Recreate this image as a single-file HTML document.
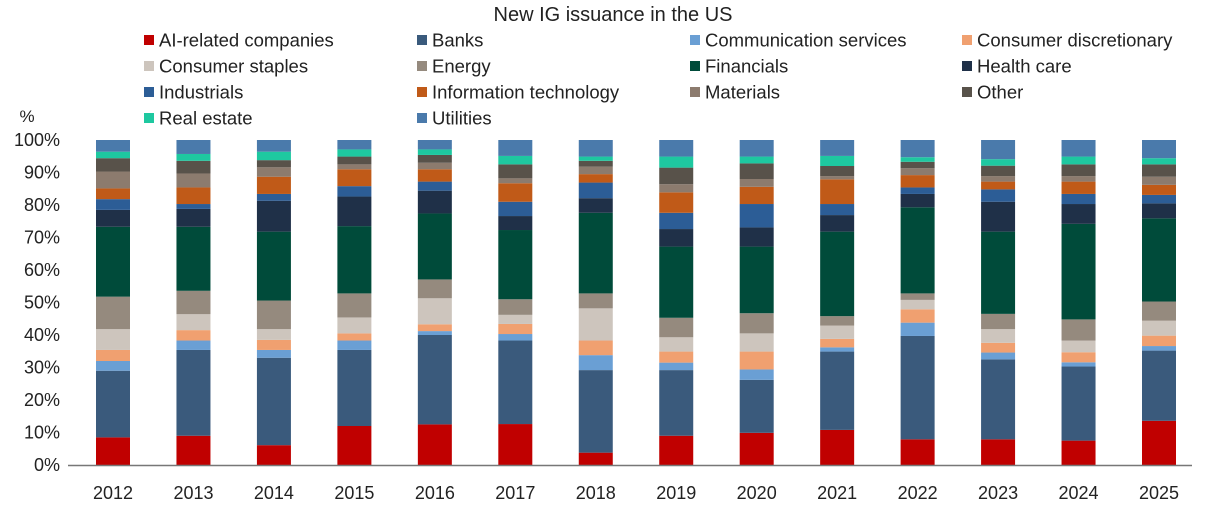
<!DOCTYPE html>
<html><head><meta charset="utf-8"><style>
body{margin:0;background:#fff;}
svg{display:block;font-family:"Liberation Sans",sans-serif;}
</style></head><body>
<svg id="chart" width="1226" height="520" xmlns="http://www.w3.org/2000/svg"></svg>
<script>
const years=['2012','2013','2014','2015','2016','2017','2018','2019','2020','2021','2022','2023','2024','2025'];
const seriesNames=['AI-related companies','Banks','Communication services','Consumer discretionary','Consumer staples','Energy','Financials','Health care','Industrials','Information technology','Materials','Other','Real estate','Utilities'];
const seriesColors=['#c00000','#3a5a7c','#6a9fd4','#f0a070','#cdc5bd','#958a7e','#004b3a','#1f3048','#2c5d96','#c05a18','#8c7b6e','#58524a','#1ec8a0','#4a7aab'];
const yTicks=[0,10,20,30,40,50,60,70,80,90,100];
const s2012=[8.5,20.5,3.0,3.4,6.4,10.0,21.5,5.2,3.3,3.3,5.2,4.1,2.0,3.6];
const s2013=[9.0,26.4,2.9,3.2,4.9,7.2,19.7,5.5,1.5,5.1,4.3,3.9,2.1,4.3];
const s2014=[6.1,26.9,2.4,3.1,3.3,8.8,21.2,9.5,2.1,5.3,2.9,2.2,2.6,3.6];
const s2015=[12.0,23.4,2.9,2.2,4.9,7.4,20.7,9.1,3.2,5.2,1.5,2.4,2.2,2.9];
const s2016=[12.5,27.5,1.2,2.1,8.0,5.8,20.3,7.0,2.8,3.8,2.0,2.4,1.7,2.9];
const s2017=[12.6,25.7,2.0,3.1,2.8,4.8,21.3,4.3,4.4,5.7,1.5,4.3,2.6,4.9];
const s2018=[3.8,25.4,4.6,4.5,9.9,4.6,24.8,4.5,4.8,2.6,2.3,1.8,1.3,5.1];
const s2019=[9.0,20.2,2.3,3.4,4.4,6.0,21.9,5.4,5.0,6.3,2.5,5.1,3.4,5.1];
const s2020=[9.9,16.3,3.2,5.5,5.6,6.2,20.5,5.9,7.2,5.3,2.4,4.8,2.1,5.1];
const s2021=[10.8,24.1,1.3,2.6,4.1,2.9,26.0,5.1,3.4,7.6,1.0,3.1,3.1,4.9];
const s2022=[7.9,31.8,4.1,4.1,2.9,2.0,26.5,4.1,2.0,3.8,2.1,2.0,1.4,5.3];
const s2023=[7.9,24.6,2.1,3.0,4.2,4.7,25.3,9.2,3.8,2.4,1.7,3.2,2.0,5.9];
const s2024=[7.5,22.8,1.3,3.1,3.6,6.5,29.4,6.1,3.1,3.8,1.7,3.6,2.4,5.1];
const s2025=[13.6,21.6,1.4,3.2,4.6,5.9,25.6,4.6,2.6,3.1,2.5,3.8,1.9,5.6];
const yearShares=[s2012,s2013,s2014,s2015,s2016,s2017,s2018,s2019,s2020,s2021,s2022,s2023,s2024,s2025];

const NS='http://www.w3.org/2000/svg';
const svg=document.getElementById('chart');
function mk(tag,attrs,text){const e=document.createElementNS(NS,tag);for(const k in attrs)e.setAttribute(k,attrs[k]);if(text!==undefined)e.textContent=text;svg.appendChild(e);return e;}
const plotL=68,plotR=1192,y0=465,y100=140;
function yScale(v){return y0-(v/100)*(y0-y100);}
const firstX=113,lastX=1159;
function xCenter(i){return firstX+(lastX-firstX)*i/(years.length-1);}
const barW=34;

let t=mk('text',{x:613,y:21,'text-anchor':'middle','font-size':20,fill:'#222'},'New IG issuance in the US');



const legX=[144,417,690,962],legY=[40,66,92,118];
seriesNames.forEach((n,i)=>{
  const cx=legX[i%4],cy=legY[Math.floor(i/4)];
  const r=mk('rect',{x:cx,y:cy-5,width:10,height:10,fill:seriesColors[i]});
  
  
  const tx=mk('text',{x:cx+15,y:cy+6.5,'font-size':18.5,fill:'#222'},n);
  
  
});

t=mk('text',{x:27,y:122,'text-anchor':'middle','font-size':17,fill:'#222'},'%');


yTicks.forEach(v=>{
  const tt=mk('text',{x:60,y:yScale(v)+6,'text-anchor':'end','font-size':18,fill:'#222'},v+'%');
  
  
});

yearShares.forEach((arr,i)=>{
  let cum=0;
  arr.forEach((v,j)=>{
    const top=yScale(cum+v),bot=yScale(cum);
    const r=mk('rect',{x:xCenter(i)-barW/2,y:top,width:barW,height:Math.max(0,bot-top),fill:seriesColors[j]});
    
    
    cum+=v;
  });
  const lb=mk('text',{x:xCenter(i),y:499,'text-anchor':'middle','font-size':18,fill:'#222'},years[i]);
  
  
});
const ax=mk('line',{x1:plotL,x2:plotR,y1:y0+0.5,y2:y0+0.5,stroke:'#777','stroke-width':1.5});


</script>
</body></html>
